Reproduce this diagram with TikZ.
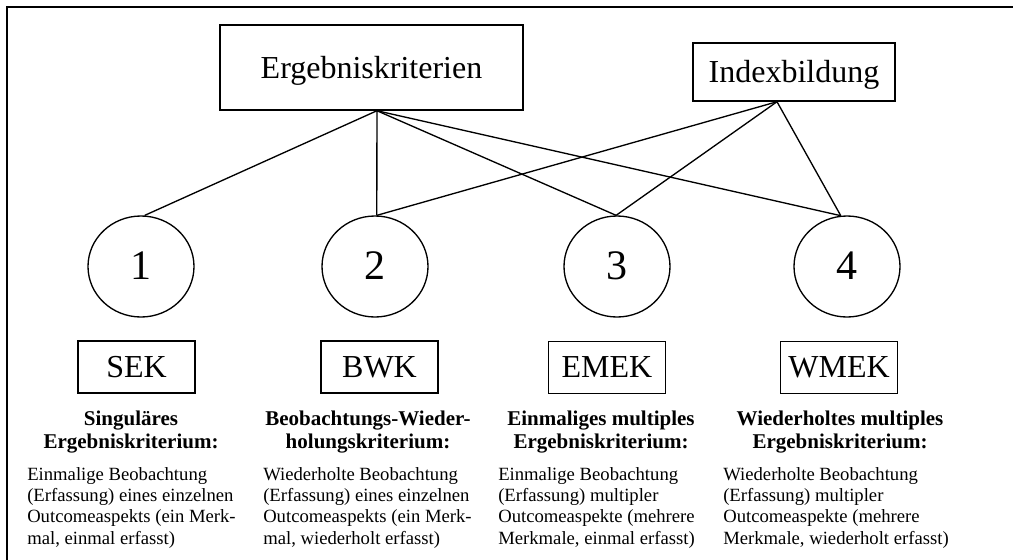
\documentclass[tikz,border=0pt]{standalone}
\usepackage{fontspec}
\setmainfont{Liberation Serif}
\usetikzlibrary{shapes.geometric}
\begin{document}
\begin{tikzpicture}[x=0.75pt,y=-0.75pt,
  bigbox/.style={draw, line width=1.1pt, inner sep=0pt, text height=15.84pt, text depth=0pt, font=\fontsize{24pt}{28pt}\selectfont},
  numell/.style={draw, ellipse, line width=1pt, minimum width=79.5pt, minimum height=75.75pt, inner sep=0pt, text height=18.75pt, text depth=0pt, font=\fontsize{31.5pt}{36pt}\selectfont},
  abbrbox/.style={draw, line width=1.1pt, minimum width=87.75pt, minimum height=39pt, inner sep=0pt, text height=15pt, text depth=0pt, font=\fontsize{24pt}{28pt}\selectfont},
  link/.style={line width=1pt},
  headtxt/.style={anchor=base, inner sep=0pt},
  bodytxt/.style={anchor=base west, inner sep=0pt},
  frameline/.style={line width=1.3pt}]
\useasboundingbox (0,0) rectangle (1013,560);
\draw[frameline] (1013,7) -- (7,7) -- (7,560);

\node[bigbox, minimum width=227.25pt, minimum height=63.75pt] (erg) at (371.5,67.5) {Ergebniskriterien\hspace{15.75pt}};
\node[bigbox, minimum width=151.5pt, minimum height=43.5pt] (idx) at (794,72) {Indexbildung\hspace{8.25pt}};

\node[numell] (c1) at (141,266.5) {1};
\node[numell] (c2) at (375,266.5) {2};
\node[numell] (c3) at (617,266.5) {3};
\node[numell] (c4) at (847,266.5) {4};

\coordinate (ergo) at ([xshift=4.1pt]erg.south);
\coordinate (idxo) at ([xshift=-12.75pt]idx.south);

\draw[link] (ergo) -- (c1.86);
\draw[link] (ergo) -- (c2.88);
\draw[link] (ergo) -- (c3.91);
\draw[link] (ergo) -- (c4.97);
\draw[link] (idxo) -- (c2.88);
\draw[link] (idxo) -- (c3.91);
\draw[link] (idxo) -- (c4.97);

\node[abbrbox] (a1) at (136.5,367) {SEK\hspace{10.2pt}};
\node[abbrbox] (a2) at (379.5,367) {BWK};
\node[abbrbox] (a3) at (607,367.5) {EMEK};
\node[abbrbox] (a4) at (839,367.5) {WMEK};

\newcommand{\headpar}[1]{\parbox[t]{187.5pt}{\centering\fontsize{15.75pt}{17.6pt}\selectfont\bfseries #1}}
\newcommand{\bodypar}[1]{\parbox[t]{190pt}{\raggedright\fontsize{14pt}{16.1pt}\selectfont #1}}

\node[headtxt] (h1) at (131,425) {\headpar{Singuläres\\Ergebniskriterium:}};
\node[headtxt] (h2) at (368,425) {\headpar{Beobachtungs-Wieder-\\holungskriterium:}};
\node[headtxt] (h3) at (601,425) {\headpar{Einmaliges multiples\\Ergebniskriterium:}};
\node[headtxt] (h4) at (840,425) {\headpar{Wiederholtes multiples\\Ergebniskriterium:}};

\node[bodytxt] (b1) at (27,480) {\bodypar{Einmalige Beobachtung\\(Erfassung) eines einzelnen\\Outcomeaspekts (ein Merk-\\mal, einmal erfasst)}};
\node[bodytxt] (b2) at (263,480) {\bodypar{Wiederholte Beobachtung\\(Erfassung) eines einzelnen\\Outcomeaspekts (ein Merk-\\mal, wiederholt erfasst)}};
\node[bodytxt] (b3) at (498,480) {\bodypar{Einmalige Beobachtung\\(Erfassung) multipler\\Outcomeaspekte (mehrere\\Merkmale, einmal erfasst)}};
\node[bodytxt] (b4) at (723,480) {\bodypar{Wiederholte Beobachtung\\(Erfassung) multipler\\Outcomeaspekte (mehrere\\Merkmale, wiederholt erfasst)}};
\end{tikzpicture}
\end{document}
